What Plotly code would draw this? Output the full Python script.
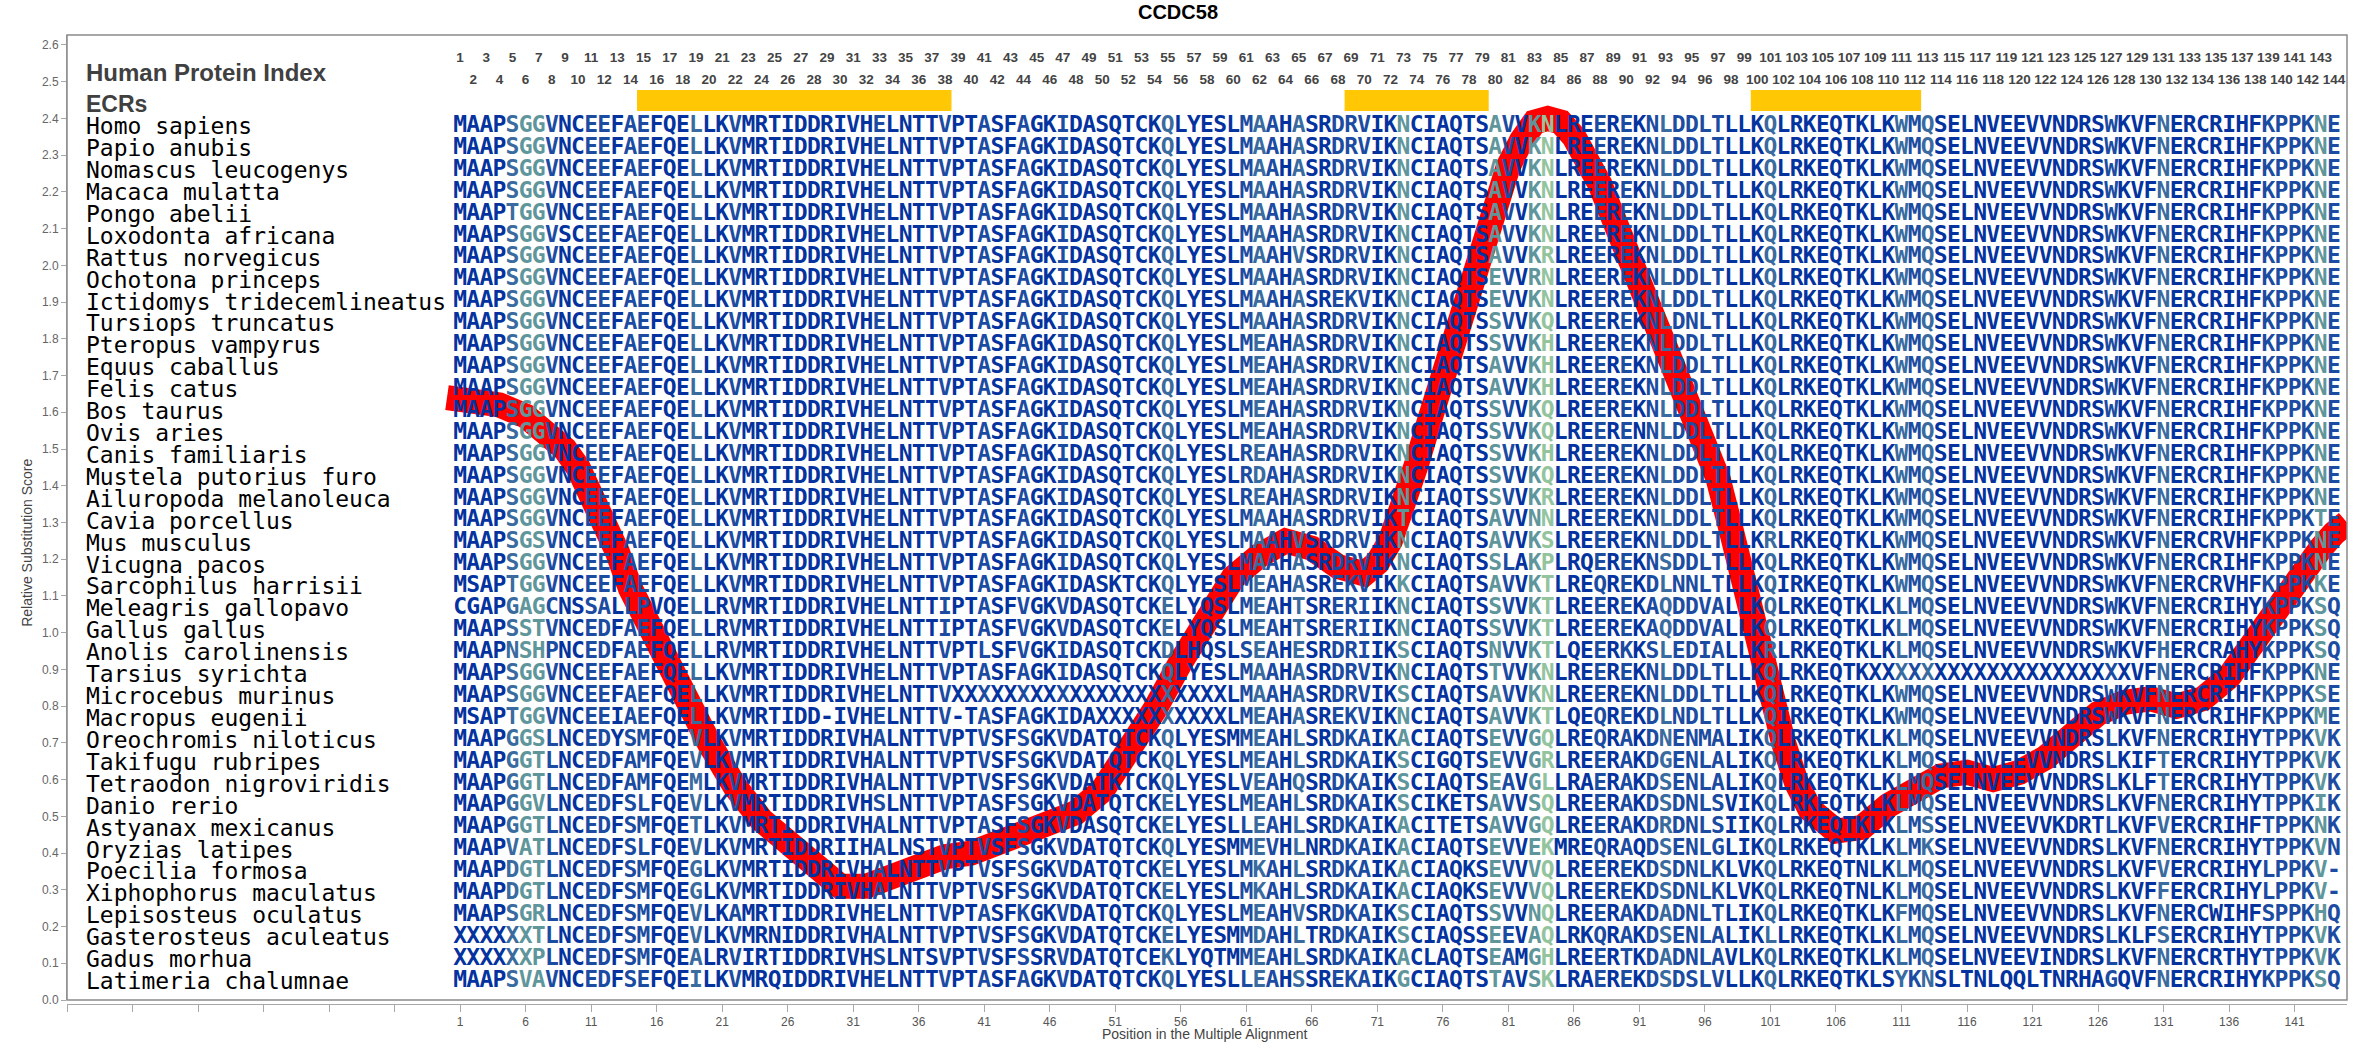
import plotly.graph_objects as go

# ---------------- data ----------------
species = [
    "Homo sapiens", "Papio anubis", "Nomascus leucogenys", "Macaca mulatta", "Pongo abelii",
    "Loxodonta africana", "Rattus norvegicus", "Ochotona princeps", "Ictidomys tridecemlineatus",
    "Tursiops truncatus", "Pteropus vampyrus", "Equus caballus", "Felis catus", "Bos taurus",
    "Ovis aries", "Canis familiaris", "Mustela putorius furo", "Ailuropoda melanoleuca",
    "Cavia porcellus", "Mus musculus", "Vicugna pacos", "Sarcophilus harrisii",
    "Meleagris gallopavo", "Gallus gallus", "Anolis carolinensis", "Tarsius syrichta",
    "Microcebus murinus", "Macropus eugenii", "Oreochromis niloticus", "Takifugu rubripes",
    "Tetraodon nigroviridis", "Danio rerio", "Astyanax mexicanus", "Oryzias latipes",
    "Poecilia formosa", "Xiphophorus maculatus", "Lepisosteus oculatus",
    "Gasterosteus aculeatus", "Gadus morhua", "Latimeria chalumnae",
]

HA = "MAAPSGGVNCEEFAEFQELLKVMRTIDDRIVHELNTTVPTASFAGKIDA"
HB = "SQTCKQLYESLMAAHASRDRVIKNCIAQTSAVVKNLREEREKNLDDL"
HC = "TLLKQLRKEQTKLKWMQSELNVEEVVNDRSWKVFNERCRIHFKPPKNE"
BIRD_B = "SQTCKELYQSLMEAHTSRERIIKNCIAQTSSVVKTLREEREKAQDDV"
BIRD_C = "ALLKQLRKEQTKLKLMQSELNVEEVVNDRSWKVFNERCRIHYKPPKSQ"
POEC_A = "MAAPDGTLNCEDFSMFQEGLKVMRTIDDRIVHALNTTVPTVSFSGKVDA"
POEC_B = "TQTCKELYESLMKAHLSRDKAIKACIAQKSEVVVQLREEREKDSDNL"

sequences = [
    HA + HB + HC,
    HA + HB + HC,
    HA + HB + HC,
    HA + HB + HC,
    "MAAPTGGVNCEEFAEFQELLKVMRTIDDRIVHELNTTVPTASFAGKIDA" + HB + HC,
    "MAAPSGGVSCEEFAEFQELLKVMRTIDDRIVHELNTTVPTASFAGKIDA" + HB + HC,
    HA + "SQTCKQLYESLMAAHVSRDRVIKNCIAQTSAVVKRLREEREKNLDDL" + HC,
    HA + "SQTCKQLYESLMAAHASRDRVIKNCIAQTSEVVRNLREEREKNLDDL" + HC,
    HA + "SQTCKQLYESLMAAHASREKVIKNCIAQTSEVVKNLREEREKNLDDL" + HC,
    HA + "SQTCKQLYESLMAAHASRDRVIKNCIAQTSSVVKQLREEREKNLDNL" + HC,
    HA + "SQTCKQLYESLMEAHASRDRVIKNCIAQTSSVVKHLREEREKNLDDL" + HC,
    HA + "SQTCKQLYESLMEAHASRDRVIKNCIAQTSAVVKHLREEREKNLDDL" + HC,
    HA + "SQTCKQLYESLMEAHASRDRVIKNCIAQTSAVVKHLREEREKNLDDL" + HC,
    HA + "SQTCKQLYESLMEAHASRDRVIKNCIAQTSSVVKQLREEREKNLDDL" + HC,
    HA + "SQTCKQLYESLMEAHASRDRVIKNCIAQTSSVVKQLREERENNLDDL" + HC,
    HA + "SQTCKQLYESLREAHASRDRVIKNCIAQTSSVVKHLREEREKNLDDL" + HC,
    HA + "SQTCKQLYESLRDAHASRDRVIKNCIAQTSSVVKQLREEREKNLDDL" + HC,
    HA + "SQTCKQLYESLREAHASRDRVIKNCIAQTSSVVKRLREEREKNLDDL" + HC,
    HA + "SQTCKQLYESLMAAHASRDRVIKTCIAQTSAVVNNLREEREKNLDDL"
       + "TLLKQLRKEQTKLKWMQSELNVEEVVNDRSWKVFNERCRIHFKPPKTE",
    "MAAPSGSVNCEEFAEFQELLKVMRTIDDRIVHELNTTVPTASFAGKIDA"
       + "SQTCKQLYESLMAAHVSRDRVIKNCIAQTSAVVKSLREEREKNLDDL"
       + "TLLKRLRKEQTKLKWMQSELNVEEVVNDRSWKVFNERCRVHFKPPKNE",
    HA + "SQTCKQLYESLMAAHASRDRVIKNCIAQTSSLAKPLRQEREKNSDDL" + HC,
    "MSAPTGGVNCEEFAEFQELLKVMRTIDDRIVHELNTTVPTASFAGKIDA"
       + "SKTCKQLYESLMEAHASREKVIKKCIAQTSAVVKTLREQREKDLNNL"
       + "TLLKQIRKEQTKLKWMQSELNVEEVVNDRSWKVFNERCRVHFKPPKKE",
    "CGAPGAGCNSSALLPVQELLRVMRTIDDRIVHELNTTIPTASFVGKVDA" + BIRD_B + BIRD_C,
    "MAAPSSTVNCEDFAEFQELLRVMRTIDDRIVHELNTTIPTASFVGKVDA" + BIRD_B + BIRD_C,
    "MAAPNSHPNCEDFAEFQELLRVMRTIDDRIVHELNTTVPTLSFVGKIDA"
       + "SQTCKDLHQSLSEAHESRDRIIKSCIAQTSNVVKTLQEERKKSLEDI"
       + "ALLKRLRKEQTKLKLMQSELNVEEVVNDRSWKVFHERCRAHYKPPKSQ",
    HA + "SQTCKQLYESLMAAHASRDRVIKNCIAQTSTVVKNLREEREKNLDDL"
       + "TLLKQLRKEQTK" + "X" * 20 + "VFNERCRIHFKPPKNE",
    "MAAPSGGVNCEEFAEFQELLKVMRTIDDRIVHELNTTV" + "X" * 21
       + "LMAAHASRDRVIKSCIAQTSAVVKNLREEREKNLDDL"
       + "TLLKQLRKEQTKLKWMQSELNVEEVVNDRSWKVFNERCRIHFKPPKSE",
    "MSAPTGGVNCEEIAEFQELLKVMRTIDD-IVHELNTTV-TASFAGKIDA" + "X" * 10
       + "LMEAHASREKVIKNCIAQTSAVVKTLQEQREKDLNDL"
       + "TLLKQIRKEQTKLKWMQSELNVEEVVNDRSWKVFNERCRIHFKPPKME",
    "MAAPGGSLNCEDYSMFQEVLKVMRTIDDRIVHALNTTVPTVSFSGKVDA"
       + "TQTCKQLYESMMEAHLSRDKAIKACIAQTSEVVGQLREQRAKDNENM"
       + "ALIKQLRKEQTKLKLMQSELNVEEVVNDRSLKVFNERCRIHYTPPKVK",
    "MAAPGGTLNCEDFAMFQEVLKVMRTIDDRIVHALNTTVPTVSFSGKVDA"
       + "TQTCKQLYESLMEAHLSRDKAIKSCIGQTSEVVGRLREERAKDGENL"
       + "ALIKQLRKEQTKLKLMQSELNVEEVVNDRSLKIFTERCRIHYTPPKVK",
    "MAAPGGTLNCEDFAMFQEMLKVMRTIDDRIVHALNTTVPTVSFSGKVDA"
       + "TKTCKQLYESLVEAHQSRDKAIKSCIAQTSEAVGLLRAERAKDSENL"
       + "ALIKQLRKEQTKLKLMQSELNVEEVVNDRSLKLFTERCRIHYTPPKVK",
    "MAAPGGVLNCEDFSLFQEVLKVMRTIDDRIVHSLNTTVPTASFSGKVDA"
       + "TQTCKELYESLMEAHLSRDKAIKSCIKETSAVVSQLREERAKDSDNL"
       + "SVIKQLRKEQTKLKLMQSELNVEEVVNDRSLKVFNERCRIHYTPPKIK",
    "MAAPGGTLNCEDFSMFQETLKVMRTIDDRIVHALNTTVPTASFSGKVDA"
       + "SQTCKELYESLLEAHLSRDKAIKACITETSAVVGQLREERAKDRDNL"
       + "SIIKQLRKEQTKLKLMSSELNVEEVVKDRTLKVFVERCRIHFTPPKNK",
    "MAAPVATLNCEDFSLFQEVLKVMRTIDDRIIHALNSTVPTVSFSGKVDA"
       + "TQTCKQLYESMMEVHLNRDKAIKACIAQTSEVVEKMREQRAQDSENL"
       + "GLIKQLRKEQTKLKLMKSELNVEEVVNDRSLKVFNERCRIHYTPPKVN",
    POEC_A + POEC_B + "KLVKQLRKEQTNLKLMQSELNVEEVVNDRSLKVFVERCRIHYLPPKV-",
    POEC_A + POEC_B + "KLVKQLRKEQTNLKLMQSELNVEEVVNDRSLKVFFERCRIHYLPPKV-",
    "MAAPSGRLNCEDFSMFQEVLKAMRTIDDRIVHELNTTVPTASFKGKVDA"
       + "TQTCKQLYESLMEAHVSRDKAIKSCIAQTSSVVNQLREERAKDADNL"
       + "TLIKQLRKEQTKLKFMQSELNVEEVVNDRSLKVFNERCWIHFSPPKHQ",
    "XXXXXXTLNCEDFSMFQEVLKVMRNIDDRIVHALNTTVPTVSFSGKVDA"
       + "TQTCKELYESMMDAHLTRDKAIKSCIAQSSEEVAQLRKQRAKDSENL"
       + "ALIKLLRKEQTKLKLMQSELNVEEVVNDRSLKLFSERCRIHYTPPKVK",
    "XXXXXXPLNCEDFSMFQEALRVIRTIDDRIVHSLNTSVPTVSFSSRVDA"
       + "TQTCEKLYQTMMEAHLSRDKAIKACLAQTSEAMGHLREERTKDADNL"
       + "AVLKQLRKEQTKLKLMQSELNVEEVINDRSLKVFNERCRTHYTPPKVK",
    "MAAPSVAVNCEDFSEFQEILKVMRQIDDRIVHELNTTVPTASFAGKVDA"
       + "TQTCKQLYESLLEAHSSREKAIKGCIAQTSTAVSKLRAEREKDSDSL"
       + "VLLKQLRKEQTKLSYKNSLTNLQQLTNRHAGQVFNERCRIHYKPPKSQ",
]

# conserved element regions (human protein index, inclusive)
ecr_start = [15, 69, 100]
ecr_end = [38, 79, 112]

# relative substitution score curve
score_pos = [0, 2, 4, 6, 8, 9, 10, 11, 12, 13, 14, 16, 18, 20, 22, 24, 26, 28, 30, 32,
             34, 36, 38, 40, 42, 44, 46, 48, 50, 52, 54, 56, 58, 60, 62, 64, 66, 68, 70,
             71, 72, 73, 74, 75, 76, 77, 78, 79, 80, 81, 82, 83, 84, 85, 86, 87, 88, 89,
             90, 91, 92, 93, 94, 95, 96, 97, 98, 99, 100, 101, 102, 103, 104, 106, 108,
             110, 112, 114, 116, 118, 120, 122, 124, 126, 128, 130, 132, 134, 136, 137,
             138, 139, 140, 141, 142, 143, 144, 145]
score_val = [1.64, 1.635, 1.62, 1.59, 1.54, 1.50, 1.45, 1.38, 1.31, 1.22, 1.12, 0.97, 0.83,
             0.70, 0.58, 0.49, 0.43, 0.36, 0.31, 0.31, 0.34, 0.37, 0.39, 0.40, 0.43, 0.45,
             0.48, 0.51, 0.57, 0.67, 0.79, 0.92, 1.04, 1.15, 1.21, 1.25, 1.23, 1.18, 1.16,
             1.19, 1.25, 1.34, 1.46, 1.58, 1.70, 1.82, 1.94, 2.06, 2.17, 2.27, 2.34, 2.39,
             2.40, 2.39, 2.35, 2.29, 2.22, 2.13, 2.04, 1.95, 1.86, 1.77, 1.69, 1.61, 1.53,
             1.42, 1.28, 1.12, 0.96, 0.83, 0.70, 0.59, 0.52, 0.46, 0.47, 0.53, 0.58, 0.61,
             0.62, 0.60, 0.62, 0.66, 0.72, 0.78, 0.81, 0.82, 0.80, 0.82, 0.88, 0.93, 0.99,
             1.05, 1.10, 1.15, 1.19, 1.23, 1.27, 1.30]

# per-column conservation shade as seen in the picture (0 = darkest blue ... 4 = green)
col_shade = [
    0, 0, 0, 0, 2, 3, 3, 1, 0, 0,   1, 1, 0, 1, 1, 0, 0, 0, 2, 0,
    0, 1, 0, 0, 0, 0, 0, 0, 0, 0,   0, 0, 1, 0, 0, 0, 0, 1, 0, 0,
    1, 0, 0, 1, 0, 0, 1, 0, 0, 0,   0, 0, 0, 0, 2, 0, 0, 0, 0, 0,
    1, 2, 1, 0, 2, 0, 0, 1, 1, 1,   0, 0, 3, 0, 0, 0, 0, 0, 0, 3,
    1, 0, 3, 4, 0, 0, 0, 1, 0, 1,   0, 1, 2, 1, 1, 1, 1, 0, 0, 0,
    2, 0, 0, 0, 0, 0, 0, 0, 0, 0,   2, 1, 2, 0, 0, 0, 0, 0, 0, 0,
    0, 0, 0, 0, 0, 0, 1, 0, 0, 0,   2, 0, 0, 0, 0, 0, 0, 0, 1, 1,
    1, 1, 3, 1,
]
shade_colors = ["#0433A0", "#1C4CA2", "#3A6B9F", "#5F969B", "#93C49E"]

# ---------------- geometry helpers ----------------
n_rows = len(species)
n_cols = 144
row_level = [n_rows - 1 - i for i in range(n_rows)]   # Homo on top
ecr_level = n_rows            # 40
hpi_level = n_rows + 1.47
idx_odd_level = n_rows + 2.1
idx_even_level = n_rows + 1.06
label_x = -27.7
head_font = "Liberation Sans Narrow, Arial Narrow, Liberation Sans"

fig = go.Figure()

# red substitution score curve (below the letters)
fig.add_trace(go.Scatter(
    x=score_pos, y=score_val, mode="lines",
    line=dict(color="#FF0000", width=25),
    hoverinfo="skip", showlegend=False, yaxis="y",
))

# alignment letters
xs, ys, ts, cs = [], [], [], []
for i, seq in enumerate(sequences):
    seq = seq[:n_cols].ljust(n_cols)
    for j, ch in enumerate(seq):
        if ch == " ":
            continue
        xs.append(j + 1)
        ys.append(row_level[i])
        ts.append(ch)
        cs.append(shade_colors[col_shade[j]])
fig.add_trace(go.Scatter(
    x=xs, y=ys, text=ts, mode="text", yaxis="y2",
    textposition="middle center",
    textfont=dict(family="DejaVu Sans Mono", size=23, color=cs, weight="bold"),
    hoverinfo="skip", showlegend=False,
))

# human protein index numbers
idx = list(range(1, n_cols + 1))
fig.add_trace(go.Scatter(
    x=idx, y=[idx_odd_level if k % 2 == 1 else idx_even_level for k in idx],
    text=[str(k) for k in idx], mode="text", yaxis="y2",
    textposition="middle center",
    textfont=dict(family=head_font, size=13.5, color="#444444", weight="bold"),
    hoverinfo="skip", showlegend=False,
))

shapes = []
for s, e in zip(ecr_start, ecr_end):
    shapes.append(dict(type="rect", xref="x", yref="y2", x0=s - 0.5, x1=e + 0.5,
                       y0=ecr_level - 0.31, y1=ecr_level + 0.65,
                       fillcolor="#FFC704", line=dict(width=0), layer="below"))
shapes.append(dict(type="rect", xref="x domain", yref="y domain", x0=0, x1=1, y0=0, y1=1,
                   line=dict(color="#8a8a8a", width=1.5), fillcolor="rgba(0,0,0,0)"))

annotations = []
for i, name in enumerate(species):
    annotations.append(dict(x=label_x, y=row_level[i], xref="x", yref="y2", text=name,
                            showarrow=False, xanchor="left", yanchor="middle",
                            font=dict(family="DejaVu Sans Mono", size=23, color="#000000")))
annotations.append(dict(x=label_x, y=hpi_level, xref="x", yref="y2",
                        text="<b>Human Protein Index</b>", showarrow=False,
                        xanchor="left", yanchor="middle",
                        font=dict(family=head_font, size=24, color="#404040")))
annotations.append(dict(x=label_x, y=ecr_level, xref="x", yref="y2",
                        text="<b>ECRs</b>", showarrow=False,
                        xanchor="left", yanchor="middle",
                        font=dict(family=head_font, size=23, color="#404040")))
annotations.append(dict(x=-0.0175, y=0.476, xref="paper", yref="paper",
                        text="Relative Substitution Score", textangle=-90, showarrow=False,
                        xanchor="center", yanchor="middle",
                        font=dict(family="Liberation Sans", size=14, color="#444444")))
annotations.append(dict(x=0.499, y=-0.031, xref="paper", yref="paper",
                        text="Position in the Multiple Alignment", showarrow=False,
                        xanchor="center", yanchor="middle",
                        font=dict(family="Liberation Sans", size=14, color="#444444")))

xtick_vals = list(range(-29, 146, 5))
xtick_text = [str(v) if v >= 1 else "" for v in xtick_vals]
ytick_vals = [k / 10 for k in range(0, 27)]
ytick_text = [f"{v:.1f}" for v in ytick_vals]

fig.update_layout(
    width=2356, height=1050,
    margin=dict(l=67, r=9, t=35, b=46),
    paper_bgcolor="white", plot_bgcolor="white",
    title=dict(text="<b>CCDC58</b>", x=0.5, xanchor="center", y=0.989, yanchor="middle",
               font=dict(family=head_font, size=20, color="#000000")),
    xaxis=dict(range=[-29, 145], domain=[0, 1], anchor="free", position=0,
               showline=True, linecolor="#a8a8a8", linewidth=1,
               ticks="outside", ticklen=7, tickcolor="#a8a8a8",
               tickvals=xtick_vals, ticktext=xtick_text,
               tickfont=dict(family="Liberation Sans", size=12, color="#555555"),
               showgrid=False, zeroline=False),
    yaxis=dict(domain=[0.0041, 1], range=[0, 2.627], anchor="x",
               tickvals=ytick_vals, ticktext=ytick_text,
               ticks="outside", ticklen=5, tickcolor="#a8a8a8",
               showline=True, linecolor="#a8a8a8",
               tickfont=dict(family="Liberation Sans", size=12, color="#666666"),
               showgrid=False, zeroline=False),
    yaxis2=dict(overlaying="y", range=[-0.867, 43.16], visible=False),
    shapes=shapes, annotations=annotations, showlegend=False,
)

fig.write_html(
    "out.html",
    config={"displayModeBar": False},
    post_script="document.body.style.margin='0px';document.body.style.overflow='hidden';",
)
